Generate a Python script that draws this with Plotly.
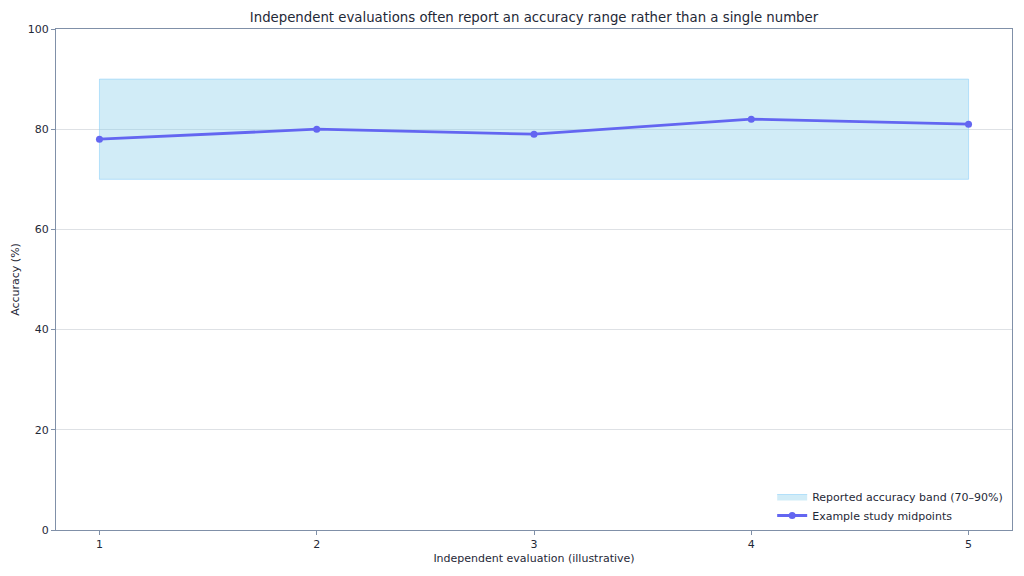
import plotly.graph_objects as go

evaluations = [1, 2, 3, 4, 5]
midpoints = [78, 80, 79, 82, 81]
band_low = 70
band_high = 90

text_color = "#1f2937"
spine_color = "#8090a8"

fig = go.Figure()

# shaded band between the low and high reported accuracy
band_x = [evaluations[0], evaluations[-1], evaluations[-1], evaluations[0], evaluations[0]]
band_y = [band_low, band_low, band_high, band_high, band_low]
fig.add_trace(go.Scatter(
    x=band_x, y=band_y, mode="lines", fill="toself",
    fillcolor="rgba(135,206,235,0.38)",
    line=dict(color="rgba(135,206,250,0.55)", width=1),
    name="Reported accuracy band (70–90%)", hoverinfo="skip"))

fig.add_trace(go.Scatter(
    x=evaluations, y=midpoints, mode="lines+markers",
    line=dict(color="#6366f1", width=2.8),
    marker=dict(color="#6366f1", size=7),
    name="Example study midpoints"))

fig.update_layout(
    width=1016, height=568,
    margin=dict(l=48, r=12, t=21, b=46, autoexpand=False),
    paper_bgcolor="white", plot_bgcolor="white",
    font=dict(family="DejaVu Sans", size=11, color=text_color),
    title=dict(text="Independent evaluations often report an accuracy range rather than a single number",
               x=0.5, xref="paper", xanchor="center", y=0.984, yanchor="middle",
               font=dict(size=13.3, color=text_color)),
    legend=dict(x=0.996, y=0.0, xanchor="right", yanchor="bottom",
                bgcolor="rgba(255,255,255,0.8)", font=dict(size=11),
                traceorder="normal", tracegroupgap=0),
    showlegend=True,
)
fig.update_xaxes(
    range=[0.8, 5.2], tickvals=evaluations, ticktext=[str(v) for v in evaluations],
    showgrid=False, zeroline=False, showline=True, linecolor=spine_color, linewidth=1,
    mirror=True, ticks="outside", ticklen=4, tickcolor=spine_color, automargin=False,
    title=dict(text="Independent evaluation (illustrative)", standoff=4, font=dict(size=11)))
fig.update_yaxes(
    range=[0, 100], tickvals=[0, 20, 40, 60, 80, 100],
    showgrid=True, gridcolor="rgba(200,205,212,0.6)", gridwidth=1, zeroline=False,
    showline=True, linecolor=spine_color, linewidth=1, mirror=True, automargin=False,
    ticks="outside", ticklen=4, tickcolor=spine_color,
    title=dict(text="Accuracy (%)", standoff=5, font=dict(size=11)))

fig.write_html("out.html")
